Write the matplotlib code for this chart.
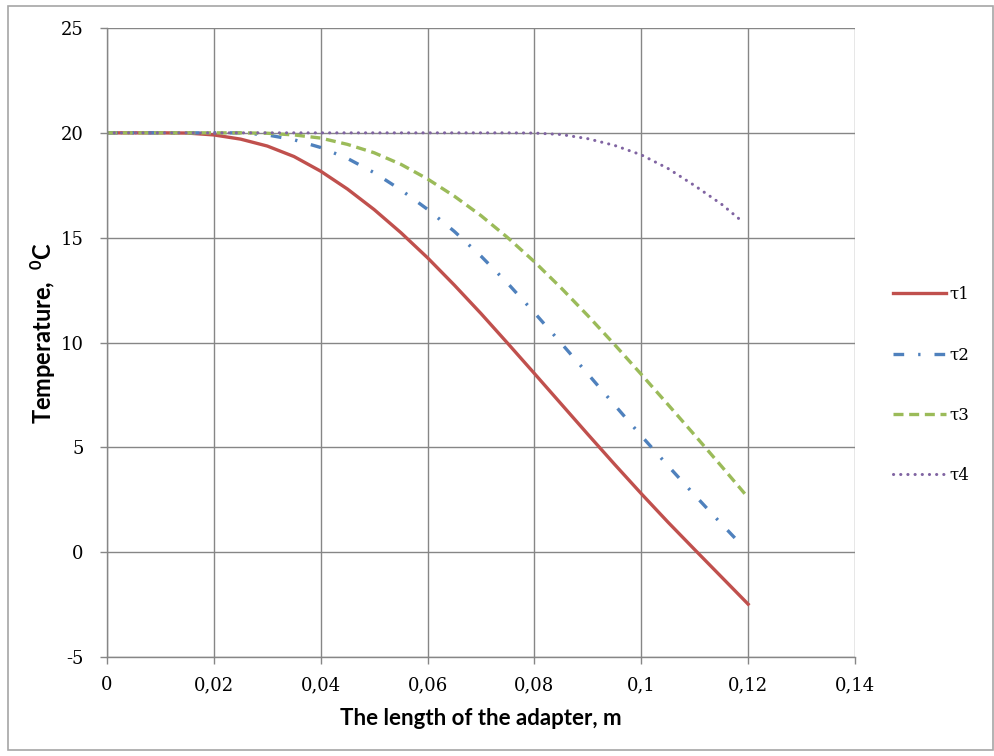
import matplotlib
matplotlib.use("Agg")
import matplotlib.pyplot as plt
from matplotlib.patches import Rectangle

plt.rcParams["axes.unicode_minus"] = False
plt.rcParams["font.family"] = "DejaVu Serif"
plt.rcParams["xtick.labelsize"] = 13
plt.rcParams["ytick.labelsize"] = 13

# x positions (m) and temperatures
x = [0, 0.005, 0.01, 0.015, 0.02, 0.025, 0.03, 0.035, 0.04, 0.045, 0.05,
     0.055, 0.06, 0.065, 0.07, 0.075, 0.08, 0.085, 0.09, 0.095, 0.1,
     0.105, 0.11, 0.115, 0.12]
x_short = [0, 0.005, 0.01, 0.015, 0.02, 0.025, 0.03, 0.035, 0.04, 0.045, 0.05,
           0.055, 0.06, 0.065, 0.07, 0.075, 0.08, 0.085, 0.09, 0.095, 0.1,
           0.105, 0.11, 0.115, 0.119]

t1 = [20, 20, 20, 19.99, 19.9, 19.7, 19.37, 18.87, 18.17, 17.32, 16.34,
      15.24, 14.04, 12.74, 11.38, 9.96, 8.52, 7.07, 5.62, 4.19, 2.79,
      1.43, 0.12, -1.18, -2.48]
t2 = [20, 20, 20, 20, 20, 20, 19.9, 19.67, 19.3, 18.78, 18.1,
      17.28, 16.35, 15.3, 14.12, 12.82, 11.42, 9.97, 8.5, 7.02, 5.55,
      4.12, 2.72, 1.35, 0.28]
t3 = [20, 20, 20, 20, 20, 20, 19.98, 19.9, 19.75, 19.45, 19.05,
      18.5, 17.8, 16.98, 16.05, 15.0, 13.85, 12.6, 11.28, 9.9, 8.48,
      7.04, 5.58, 4.1, 2.6]
t4 = [20, 20, 20, 20, 20, 20, 20, 20, 20, 20, 20,
      20, 20, 20, 20, 20, 19.99, 19.92, 19.72, 19.4, 18.95,
      18.3, 17.48, 16.6, 15.75]

labels = ["τ1", "τ2", "τ3", "τ4"]
xticks = [0, 0.02, 0.04, 0.06, 0.08, 0.1, 0.12, 0.14]
xtick_labels = ["0", "0,02", "0,04", "0,06", "0,08", "0,1", "0,12", "0,14"]
yticks = [-5, 0, 5, 10, 15, 20, 25]

grid_c = "#868686"

fig = plt.figure(figsize=(9.95, 7.56), dpi=100)
fig.patches.append(Rectangle((8 / 995, 6 / 756), 985 / 995, 744 / 756,
                             transform=fig.transFigure, fill=False,
                             edgecolor="#a6a6a6", linewidth=1.2))
ax = fig.add_axes([107 / 995, 1 - 657 / 756, 748 / 995, 629 / 756])

ax.plot(x, t1, color="#C0504D", lw=2.4, label=labels[0])
ax.plot(x_short, t2, color="#4F81BD", lw=2.4, label=labels[1],
        dashes=(3.2, 4.2, 0.7, 4.2))
ax.plot(x, t3, color="#9BBB59", lw=2.4, label=labels[2],
        dashes=(3.0, 1.7))
ax.plot(x_short, t4, color="#8064A2", lw=2.2, label=labels[3],
        dashes=(0.05, 2.3), dash_capstyle="round")

ax.set_xlim(0, 0.14)
ax.set_ylim(-5, 25)
ax.set_xticks(xticks)
ax.set_xticklabels(xtick_labels)
ax.set_yticks(yticks)
ax.grid(True, color=grid_c, lw=1)
ax.set_axisbelow(True)
for s in ["top", "right"]:
    ax.spines[s].set_visible(False)
for s in ["left", "bottom"]:
    ax.spines[s].set_color(grid_c)
    ax.spines[s].set_linewidth(1)
ax.tick_params(colors=grid_c, length=5, width=1, labelcolor="black")
ax.tick_params(axis="x", pad=9)
ax.tick_params(axis="y", pad=12)

ax.set_xlabel("The length of the adapter, m", family="Lato",
              fontweight="bold", fontsize=16)
ax.set_ylabel(r"Temperature,  $\mathregular{^0}$C", family="Lato",
              fontweight="bold", fontsize=17)
ax.xaxis.set_label_coords(0.5, -0.081)
ax.yaxis.set_label_coords(-0.066, 0.515)

fig.legend(loc="center left", bbox_to_anchor=(878 / 995, 1 - 385 / 756),
           frameon=False, labelspacing=2.6, handlelength=3.2,
           handletextpad=0.2, prop={"family": "DejaVu Serif", "size": 12})

fig.savefig("out.png", dpi=100, facecolor="white")
